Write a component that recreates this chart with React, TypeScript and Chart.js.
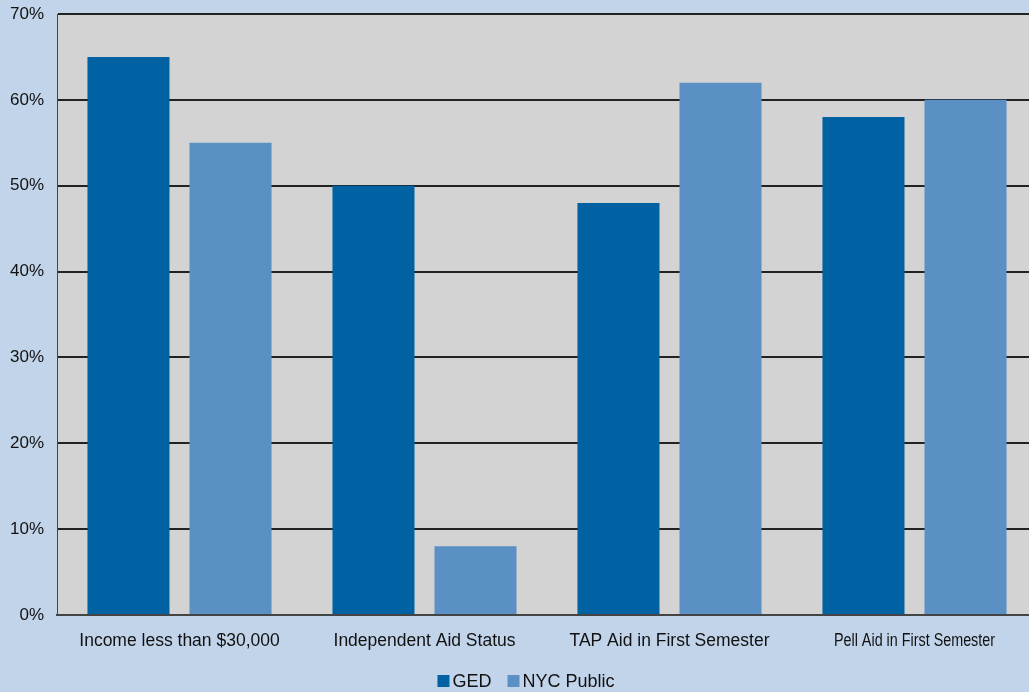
import React, { useEffect, useRef } from "react";
import { Chart, registerables } from "chart.js";

Chart.register(...registerables);

const categories = [
  "Income less than $30,000",
  "Independent Aid Status",
  "TAP Aid in First Semester",
  "Pell Aid in First Semester",
];
const seriesNames = ["GED", "NYC Public"];
const gedValues = [65, 50, 48, 58];
const nycValues = [55, 8, 62, 60];
const yTicks = [0, 10, 20, 30, 40, 50, 60, 70];
const condensedIndex = 3;

const FONT = "'Liberation Sans', Arial, sans-serif";
const COLORS = ["#0062a3", "#5b90c4"];

const plotBg = {
  id: "plotBg",
  beforeDraw(chart: any) {
    const { ctx, chartArea } = chart;
    ctx.save();
    ctx.fillStyle = "#d3d3d3";
    ctx.fillRect(chartArea.left, chartArea.top, chartArea.right - chartArea.left, chartArea.bottom - chartArea.top);
    ctx.restore();
  },
};

const condensedLabel = {
  id: "condensedLabel",
  afterDraw(chart: any) {
    const xs = chart.scales.x;
    const items = xs.getLabelItems ? xs.getLabelItems() : xs._labelItems;
    if (!items || !items[condensedIndex]) return;
    const it = items[condensedIndex];
    const [tx, ty] = it.options.translation;
    const { ctx } = chart;
    ctx.save();
    ctx.translate(tx, ty);
    ctx.scale(0.82, 1);
    ctx.font = `17.5px ${FONT}`;
    ctx.fillStyle = "#111";
    ctx.textAlign = "center";
    ctx.textBaseline = it.options.textBaseline || "middle";
    ctx.fillText(String(it.label), 0, it.textOffset || 0);
    ctx.restore();
  },
};

// Legend drawn from the chart's own datasets (compact spacing like the original)
const compactLegend = {
  id: "compactLegend",
  afterDraw(chart: any) {
    const { ctx } = chart;
    const box = 12;
    const gapBoxText = 3;
    const gapItems = 16;
    const centerY = 681;
    ctx.save();
    ctx.font = `18px ${FONT}`;
    ctx.textBaseline = "middle";
    ctx.textAlign = "left";
    const ds = chart.data.datasets;
    const widths = ds.map((d: any) => box + gapBoxText + ctx.measureText(d.label).width);
    const total = widths.reduce((a: number, b: number) => a + b, 0) + gapItems * (ds.length - 1);
    let x = 526 - total / 2;
    ds.forEach((d: any, i: number) => {
      ctx.fillStyle = d.backgroundColor;
      ctx.fillRect(x, centerY - box / 2, box, box);
      ctx.fillStyle = "#111";
      ctx.fillText(d.label, x + box + gapBoxText, centerY + 1);
      x += widths[i] + gapItems;
    });
    ctx.restore();
  },
};

export default function App() {
  const ref = useRef<HTMLCanvasElement | null>(null);
  useEffect(() => {
    document.body.style.margin = "0";
    const chart = new Chart(ref.current!, {
      type: "bar",
      data: {
        labels: categories,
        datasets: [
          { label: seriesNames[0], data: gedValues, backgroundColor: COLORS[0], barPercentage: 0.804, categoryPercentage: 0.833 },
          { label: seriesNames[1], data: nycValues, backgroundColor: COLORS[1], barPercentage: 0.804, categoryPercentage: 0.833 },
        ],
      },
      options: {
        responsive: false,
        animation: false,
        layout: { padding: { top: 14, right: 15, left: 0, bottom: 32 } },
        plugins: {
          tooltip: { enabled: false },
          legend: { display: false },
        },
        scales: {
          x: {
            grid: { display: false },
            border: { color: "#444", width: 2 },
            ticks: {
              color: (ctx: any) => (ctx.index === condensedIndex ? "rgba(0,0,0,0)" : "#111"),
              padding: 8,
              maxRotation: 0,
              autoSkip: false,
              font: { family: FONT, size: 17.5 },
            },
          },
          y: {
            min: 0,
            max: 70,
            afterFit(scale: any) {
              scale.width = 57;
            },
            afterBuildTicks(scale: any) {
              scale.ticks = yTicks.map((v) => ({ value: v }));
            },
            grid: { color: "#222", lineWidth: 2, drawTicks: false },
            border: { color: "#444", width: 1 },
            ticks: {
              color: "#111",
              padding: 13,
              font: { family: FONT, size: 17, lineHeight: 0.1 },
              callback: (v: any) => v + "%",
            },
          },
        },
      },
      plugins: [plotBg, condensedLabel, compactLegend],
    });
    return () => chart.destroy();
  }, []);
  return (
    <div style={{ position: "fixed", left: 0, top: 0, width: 1029, height: 692, overflow: "hidden", background: "#c2d4ea" }}>
      <canvas ref={ref} width={1052} height={692} style={{ display: "block" }} />
    </div>
  );
}
